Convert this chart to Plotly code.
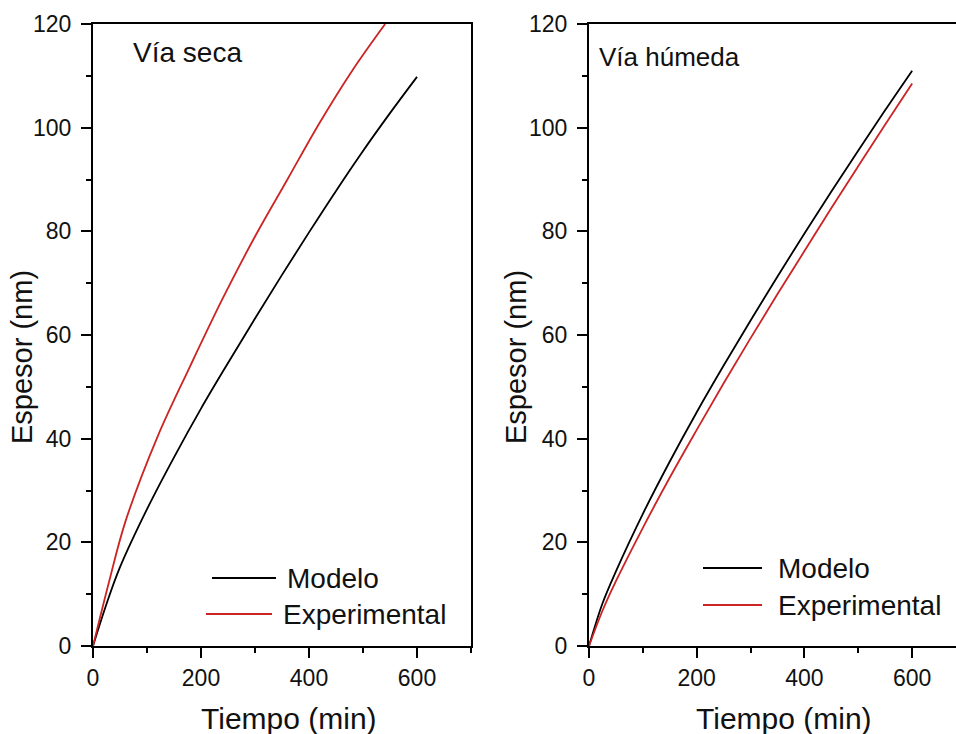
import plotly.graph_objects as go

W, H = 956, 734

# ---- data ----
t_model_seca = [0, 25, 50, 100, 150, 200, 250, 300, 350, 400, 450, 500, 550, 600]
v_model_seca = [0, 8.1, 15.2, 26.4, 36.4, 45.8, 54.6, 63.2, 71.6, 79.8, 87.8, 95.5, 102.8, 109.8]

t_exp_seca = [0, 30, 60, 120, 180, 240, 300, 360, 420, 480, 541]
v_exp_seca = [0, 12.5, 24, 40.5, 54, 67, 79, 90, 101, 111, 120]

t_model_hum = [0, 25, 50, 100, 150, 200, 250, 300, 350, 400, 450, 500, 550, 600]
v_model_hum = [0, 8.2, 14.4, 25.5, 35.6, 45.1, 54.1, 62.8, 71.3, 79.6, 87.7, 95.6, 103.4, 111]

t_exp_hum = [0, 25, 50, 100, 150, 200, 250, 300, 350, 400, 450, 500, 550, 600]
v_exp_hum = [0, 6.8, 12.5, 22.8, 32.5, 41.7, 50.7, 59.4, 67.9, 76.2, 84.5, 92.6, 100.6, 108.5]

panel_titles = ["Vía seca", "Vía húmeda"]
series_names = ["Modelo", "Experimental"]
x_title = "Tiempo (min)"
y_title = "Espesor (nm)"

BLACK = "#000000"
RED = "#cc2424"
FONT = "Liberation Sans, Arial, sans-serif"
TXT = "#111111"

def px(x):
    return x / W

def py(y):
    return 1 - y / H

fig = go.Figure()
fig.add_trace(go.Scatter(x=t_model_seca, y=v_model_seca, mode="lines", line=dict(color=BLACK, width=1.8, shape="spline"),
                         name=series_names[0], xaxis="x", yaxis="y", showlegend=False))
fig.add_trace(go.Scatter(x=t_exp_seca, y=v_exp_seca, mode="lines", line=dict(color=RED, width=1.8, shape="spline"),
                         name=series_names[1], xaxis="x", yaxis="y", showlegend=False))
fig.add_trace(go.Scatter(x=t_model_hum, y=v_model_hum, mode="lines", line=dict(color=BLACK, width=1.8, shape="spline"),
                         name=series_names[0], xaxis="x2", yaxis="y2", showlegend=False))
fig.add_trace(go.Scatter(x=t_exp_hum, y=v_exp_hum, mode="lines", line=dict(color=RED, width=1.8, shape="spline"),
                         name=series_names[1], xaxis="x2", yaxis="y2", showlegend=False))

ydom = [py(646), py(24)]
common_x = dict(showgrid=False, zeroline=False, showline=True, linecolor="black", linewidth=2,
                ticks="outside", ticklen=10, tickwidth=1.5, tickcolor="black", dtick=200, tick0=0,
                minor=dict(dtick=100, ticks="outside", ticklen=5, tickwidth=1.5, tickcolor="black"),
                tickfont=dict(family=FONT, size=23, color=TXT), mirror=True, automargin=False)
common_y = dict(showgrid=False, zeroline=False, showline=True, linecolor="black", linewidth=2,
                ticks="outside", ticklen=10, tickwidth=1.5, tickcolor="black", dtick=20, tick0=0,
                minor=dict(dtick=10, ticks="outside", ticklen=5, tickwidth=1.5, tickcolor="black"),
                tickfont=dict(family=FONT, size=23, color=TXT), range=[0, 120], automargin=False,
                ticklabelstandoff=5)

fig.update_layout(
    width=W, height=H,
    margin=dict(l=0, r=0, t=0, b=0),
    paper_bgcolor="white", plot_bgcolor="white",
    showlegend=False,
    xaxis=dict(common_x, domain=[px(93), px(471)], range=[0, 700], anchor="y"),
    yaxis=dict(common_y, domain=ydom, anchor="x", mirror=True),
    xaxis2=dict(common_x, domain=[px(589), 1.0], range=[0, 681.4], anchor="y2"),
    yaxis2=dict(common_y, domain=ydom, anchor="x2", mirror=False),
)

annotations = []
shapes = []
# axis titles
for cx in (289, 784):
    annotations.append(dict(text=x_title, x=px(cx), y=py(718), xref="paper", yref="paper",
                            xanchor="center", yanchor="middle", showarrow=False,
                            font=dict(family=FONT, size=30, color=TXT)))
for cx in (22, 516):
    annotations.append(dict(text=y_title, x=px(cx), y=py(357), xref="paper", yref="paper",
                            xanchor="center", yanchor="middle", showarrow=False, textangle=-90,
                            font=dict(family=FONT, size=29, color=TXT)))
# panel labels
annotations.append(dict(text=panel_titles[0], x=px(131), y=py(52), xref="paper", yref="paper",
                        xanchor="left", yanchor="middle", showarrow=False,
                        font=dict(family=FONT, size=28, color=TXT)))
annotations.append(dict(text=panel_titles[1], x=px(597), y=py(57), xref="paper", yref="paper",
                        xanchor="left", yanchor="middle", showarrow=False,
                        font=dict(family=FONT, size=26, color=TXT)))

# legends (manual)
legend_items = [
    # (x0, x1, y, text_x, color, label)
    (212, 276, 578, 285, BLACK, series_names[0]),
    (206, 272, 614, 281, RED, series_names[1]),
    (703, 762, 568, 776, BLACK, series_names[0]),
    (703, 762, 605, 776, RED, series_names[1]),
]
for x0, x1, yy, tx, col, lab in legend_items:
    shapes.append(dict(type="line", xref="paper", yref="paper", x0=px(x0), x1=px(x1), y0=py(yy), y1=py(yy),
                       line=dict(color=col, width=1.8)))
    annotations.append(dict(text=lab, x=px(tx), y=py(yy), xref="paper", yref="paper",
                            xanchor="left", yanchor="middle", showarrow=False,
                            font=dict(family=FONT, size=28, color=TXT)))

fig.update_layout(annotations=annotations, shapes=shapes)
fig.write_html("out.html")
